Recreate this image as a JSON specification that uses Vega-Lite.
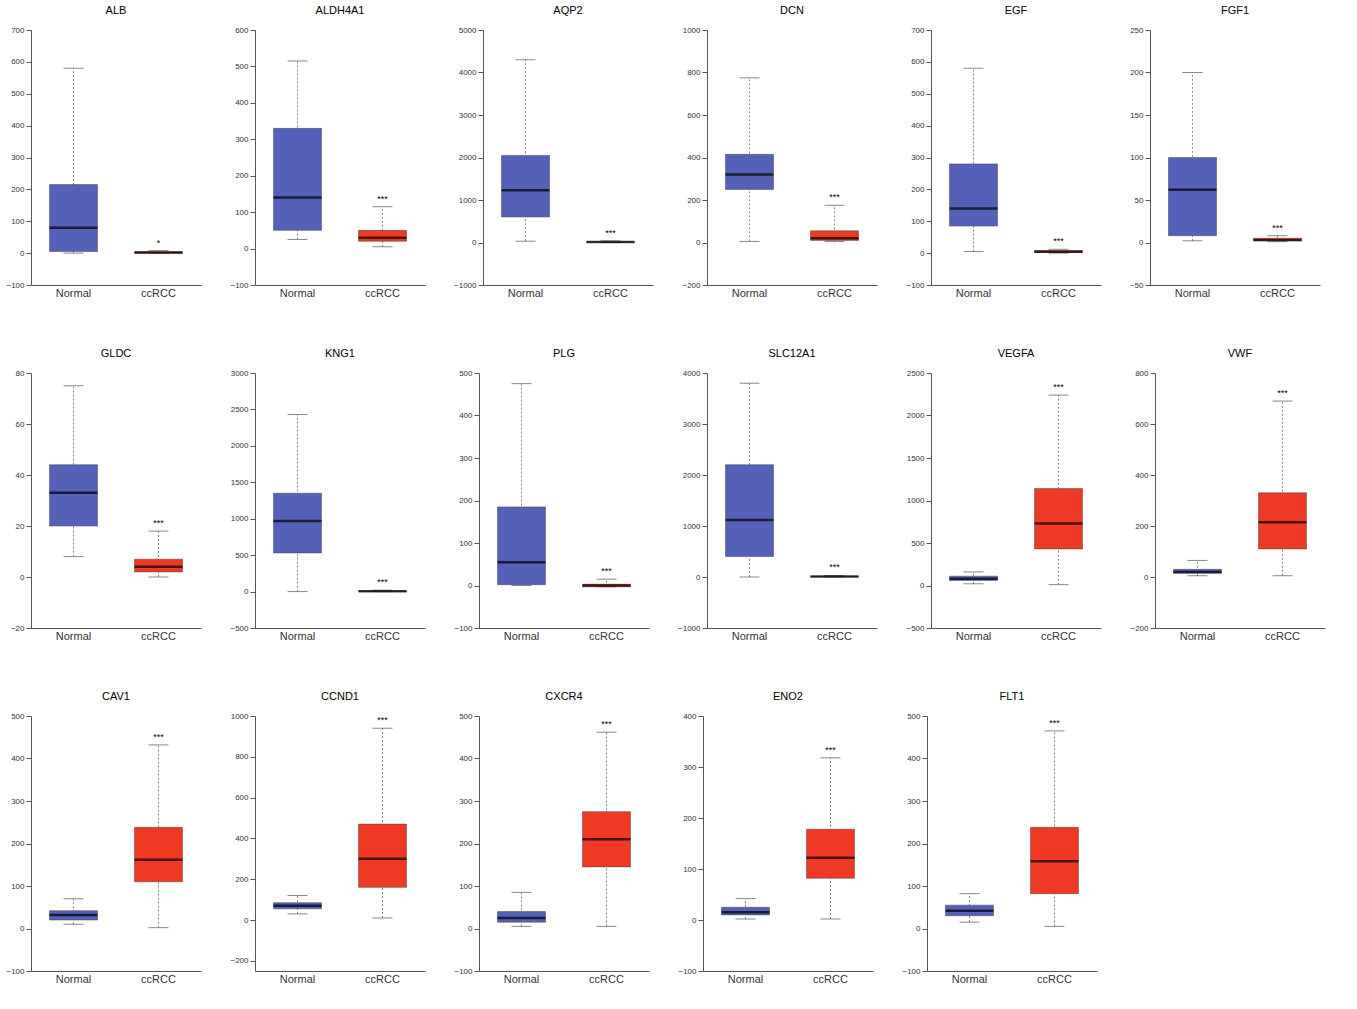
{
"$schema":"https://vega.github.io/schema/vega-lite/v6.json",
"background":"white",
"config":{"view":{"stroke":null},"axis":{"grid":false,"labelFont":"Liberation Sans","labelColor":"#333","domainColor":"#555","tickColor":"#555"},"header":{"labelFont":"Liberation Sans","labelFontSize":11}},
"data":{"values":[
{"gene":"ALB","g":"Normal","lo":0,"q1":5,"med":80,"q3":215,"hi":580,"ymin":-100,"ymax":700,"sig":""},
{"gene":"ALB","g":"ccRCC","lo":0,"q1":0,"med":2,"q3":4,"hi":8,"ymin":-100,"ymax":700,"sig":"*"},
{"gene":"ALDH4A1","g":"Normal","lo":25,"q1":50,"med":140,"q3":330,"hi":515,"ymin":-100,"ymax":600,"sig":""},
{"gene":"ALDH4A1","g":"ccRCC","lo":5,"q1":20,"med":30,"q3":50,"hi":115,"ymin":-100,"ymax":600,"sig":"***"},
{"gene":"AQP2","g":"Normal","lo":30,"q1":600,"med":1230,"q3":2050,"hi":4300,"ymin":-1000,"ymax":5000,"sig":""},
{"gene":"AQP2","g":"ccRCC","lo":0,"q1":5,"med":10,"q3":20,"hi":40,"ymin":-1000,"ymax":5000,"sig":"***"},
{"gene":"DCN","g":"Normal","lo":5,"q1":250,"med":320,"q3":415,"hi":775,"ymin":-200,"ymax":1000,"sig":""},
{"gene":"DCN","g":"ccRCC","lo":5,"q1":10,"med":20,"q3":55,"hi":175,"ymin":-200,"ymax":1000,"sig":"***"},
{"gene":"EGF","g":"Normal","lo":5,"q1":85,"med":140,"q3":280,"hi":580,"ymin":-100,"ymax":700,"sig":""},
{"gene":"EGF","g":"ccRCC","lo":0,"q1":2,"med":4,"q3":8,"hi":12,"ymin":-100,"ymax":700,"sig":"***"},
{"gene":"FGF1","g":"Normal","lo":2,"q1":8,"med":62,"q3":100,"hi":200,"ymin":-50,"ymax":250,"sig":""},
{"gene":"FGF1","g":"ccRCC","lo":1,"q1":2,"med":3,"q3":5,"hi":8,"ymin":-50,"ymax":250,"sig":"***"},
{"gene":"GLDC","g":"Normal","lo":8,"q1":20,"med":33,"q3":44,"hi":75,"ymin":-20,"ymax":80,"sig":""},
{"gene":"GLDC","g":"ccRCC","lo":0,"q1":2,"med":4,"q3":7,"hi":18,"ymin":-20,"ymax":80,"sig":"***"},
{"gene":"KNG1","g":"Normal","lo":0,"q1":530,"med":970,"q3":1350,"hi":2430,"ymin":-500,"ymax":3000,"sig":""},
{"gene":"KNG1","g":"ccRCC","lo":0,"q1":2,"med":5,"q3":10,"hi":20,"ymin":-500,"ymax":3000,"sig":"***"},
{"gene":"PLG","g":"Normal","lo":0,"q1":2,"med":55,"q3":185,"hi":475,"ymin":-100,"ymax":500,"sig":""},
{"gene":"PLG","g":"ccRCC","lo":-3,"q1":-3,"med":0,"q3":3,"hi":15,"ymin":-100,"ymax":500,"sig":"***"},
{"gene":"SLC12A1","g":"Normal","lo":0,"q1":400,"med":1120,"q3":2200,"hi":3800,"ymin":-1000,"ymax":4000,"sig":""},
{"gene":"SLC12A1","g":"ccRCC","lo":0,"q1":5,"med":10,"q3":15,"hi":30,"ymin":-1000,"ymax":4000,"sig":"***"},
{"gene":"VEGFA","g":"Normal","lo":20,"q1":60,"med":80,"q3":110,"hi":160,"ymin":-500,"ymax":2500,"sig":""},
{"gene":"VEGFA","g":"ccRCC","lo":10,"q1":430,"med":730,"q3":1140,"hi":2240,"ymin":-500,"ymax":2500,"sig":"***"},
{"gene":"VWF","g":"Normal","lo":5,"q1":15,"med":20,"q3":30,"hi":65,"ymin":-200,"ymax":800,"sig":""},
{"gene":"VWF","g":"ccRCC","lo":5,"q1":110,"med":215,"q3":330,"hi":690,"ymin":-200,"ymax":800,"sig":"***"},
{"gene":"CAV1","g":"Normal","lo":10,"q1":20,"med":32,"q3":42,"hi":70,"ymin":-100,"ymax":500,"sig":""},
{"gene":"CAV1","g":"ccRCC","lo":2,"q1":110,"med":162,"q3":238,"hi":432,"ymin":-100,"ymax":500,"sig":"***"},
{"gene":"CCND1","g":"Normal","lo":30,"q1":55,"med":70,"q3":85,"hi":120,"ymin":-250,"ymax":1000,"sig":""},
{"gene":"CCND1","g":"ccRCC","lo":10,"q1":160,"med":300,"q3":470,"hi":940,"ymin":-250,"ymax":1000,"sig":"***"},
{"gene":"CXCR4","g":"Normal","lo":5,"q1":15,"med":25,"q3":40,"hi":85,"ymin":-100,"ymax":500,"sig":""},
{"gene":"CXCR4","g":"ccRCC","lo":5,"q1":145,"med":210,"q3":275,"hi":462,"ymin":-100,"ymax":500,"sig":"***"},
{"gene":"ENO2","g":"Normal","lo":2,"q1":10,"med":15,"q3":25,"hi":42,"ymin":-100,"ymax":400,"sig":""},
{"gene":"ENO2","g":"ccRCC","lo":2,"q1":82,"med":122,"q3":178,"hi":318,"ymin":-100,"ymax":400,"sig":"***"},
{"gene":"FLT1","g":"Normal","lo":15,"q1":30,"med":42,"q3":55,"hi":82,"ymin":-100,"ymax":500,"sig":""},
{"gene":"FLT1","g":"ccRCC","lo":5,"q1":82,"med":158,"q3":238,"hi":465,"ymin":-100,"ymax":500,"sig":"***"}
]},
"facet":{"field":"gene","type":"nominal","sort":["ALB","ALDH4A1","AQP2","DCN","EGF","FGF1","GLDC","KNG1","PLG","SLC12A1","VEGFA","VWF","CAV1","CCND1","CXCR4","ENO2","FLT1"],"header":{"title":null,"labelOrient":"top"}},
"columns":6,
"spacing":{"column":28,"row":50},
"resolve":{"scale":{"y":"independent"},"axis":{"y":"independent","x":"independent"}},
"spec":{
"width":170,"height":255,
"encoding":{"x":{"field":"g","type":"nominal","sort":["Normal","ccRCC"],"title":null,"axis":{"labelAngle":0,"ticks":false,"labelFontSize":11}}},
"layer":[
{"mark":{"type":"rule","opacity":0},"encoding":{"y":{"field":"ymin","type":"quantitative","scale":{"nice":false,"zero":false},"title":null,"axis":{"labelFontSize":8,"tickCount":7,"format":"d"}},"y2":{"field":"ymax"}}},
{"mark":{"type":"rule","strokeDash":[2,2],"color":"#888"},"encoding":{"y":{"field":"lo","type":"quantitative"},"y2":{"field":"hi"}}},
{"mark":{"type":"tick","color":"#555","size":20,"thickness":1},"encoding":{"y":{"field":"lo","type":"quantitative"}}},
{"mark":{"type":"tick","color":"#555","size":20,"thickness":1},"encoding":{"y":{"field":"hi","type":"quantitative"}}},
{"mark":{"type":"bar","size":48,"stroke":"#444","strokeWidth":0.5},"encoding":{"y":{"field":"q1","type":"quantitative"},"y2":{"field":"q3"},"color":{"field":"g","type":"nominal","scale":{"domain":["Normal","ccRCC"],"range":["#5560b8","#ee3a24"]},"legend":null}}},
{"mark":{"type":"tick","color":"black","size":48,"thickness":2.5},"encoding":{"y":{"field":"med","type":"quantitative"}}},
{"transform":[{"filter":"datum.sig != ''"}],"mark":{"type":"text","dy":-8,"fontSize":9,"font":"Liberation Sans"},"encoding":{"y":{"field":"hi","type":"quantitative"},"text":{"field":"sig"}}}
]}
}
